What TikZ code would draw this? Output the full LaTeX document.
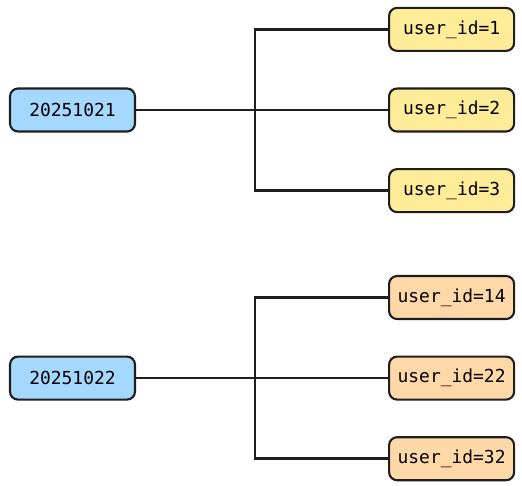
\documentclass[tikz,border=0pt]{standalone}
\usepackage{fontspec}
\setmonofont{DejaVu Sans Mono}
\usepackage{xcolor}
\usepackage{tikz}
\usetikzlibrary{positioning}
\definecolor{dayblue}{HTML}{A5D8FF}
\definecolor{idyellow}{HTML}{FFEC99}
\definecolor{idorange}{HTML}{FFD8A8}
\definecolor{inkgray}{HTML}{1E1E1E}
\tikzstyle{box} = [draw=inkgray, line width=1.2pt, rounded corners=0.16cm, minimum width=2.5cm, minimum height=0.86cm, font=\ttfamily\fontsize{10.2}{12}\selectfont]
\tikzstyle{day} = [box, fill=dayblue]
\tikzstyle{uid} = [box, fill=idyellow]
\tikzstyle{uidb} = [box, fill=idorange]
\tikzstyle{link} = [draw=inkgray, line width=1.2pt]
\tikzstyle{fork} = [draw=inkgray, line width=1.5pt]

\begin{document}
\begin{tikzpicture}[node distance=0.71cm]
		\useasboundingbox (0,0) rectangle (10.44,-9.72);
		\node (day1) [day] at (1.45,-2.2) {20251021};
		\node (id2) [uid, right=5.04cm of day1] {user\_id=2};
		\node (id1) [uid, above=of id2] {user\_id=1};
		\node (id3) [uid, below=of id2] {user\_id=3};
		
		\node (day2) [day, below=4.46cm of day1] {20251022};
		\node (id22) [uidb, right=5.04cm of day2] {user\_id=22};
		\node (id14) [uidb, above=of id22] {user\_id=14};
		\node (id32) [uidb, below=of id22] {user\_id=32};
		
		\coordinate (fork1) at (5.1,-2.2);
		\coordinate (fork2) at (5.1,-7.52);
		
		\draw [fork] (id1.west) -| (fork1) |- (id3.west);
		\draw [link] (day1) -- (id2);
		\draw [fork] (id14.west) -| (fork2) |- (id32.west);
		\draw [link] (day2) -- (id22);
	\end{tikzpicture}
\end{document}
